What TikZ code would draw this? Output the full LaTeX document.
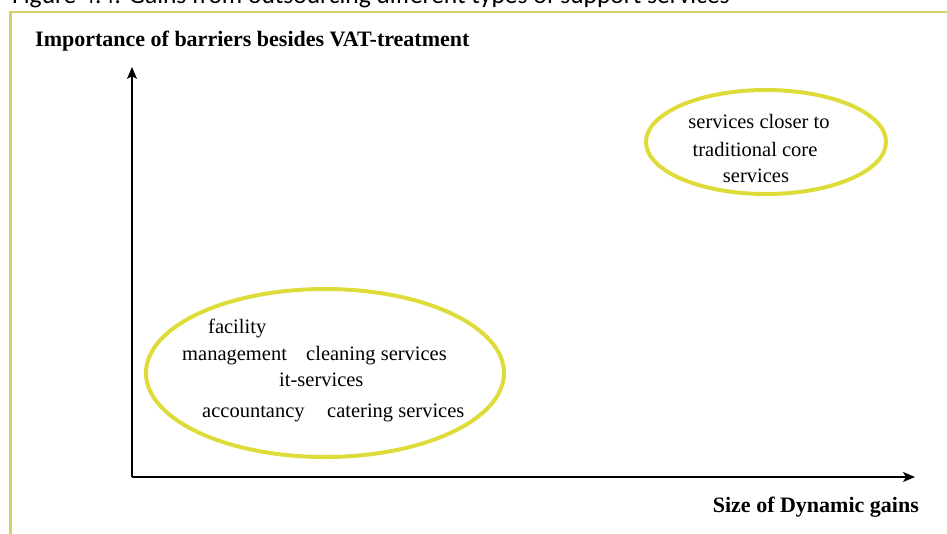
\documentclass[tikz,border=0pt]{standalone}
\usepackage{fontspec}
\setmainfont{Liberation Serif}
\newfontfamily\captionfont{Carlito}
\usetikzlibrary{arrows.meta,shapes.geometric}

\definecolor{framecol}{RGB}{212,208,106}
\definecolor{ringcol}{RGB}{222,220,58}

\tikzset{
	axis/.style={line width=1.5pt, -{Stealth[length=12pt,width=10pt,inset=3pt]}},
	ring/.style={ellipse, draw=ringcol, line width=4pt, inner sep=0pt},
	item/.style={inner sep=0pt, font=\fontsize{20.5}{24}\selectfont},
	axislabel/.style={inner sep=0pt, font=\fontsize{22}{26}\selectfont\bfseries}
}

\begin{document}
\begin{tikzpicture}[x=1pt, y=-1pt]
	\useasboundingbox (0,0) rectangle (947,533);
	% caption and frame
	\node (caption) at (12,3) [anchor=base west, inner sep=0pt, font=\captionfont\fontsize{25.5}{30}\selectfont] {Figure 4.4: Gains from outsourcing different types of support services};
	\draw[framecol, line width=2.5pt] (10.5,540) -- (10.5,12) -- (950,12);
	% axes
	\coordinate (origin) at (132,477);
	\coordinate (ytip) at (132,67);
	\coordinate (xtip) at (915,477);
	\draw[axis] (origin) -- (ytip);
	\draw[axis] (origin) -- (xtip);
	\node (ylabel) at (35,46) [axislabel, anchor=base west] {Importance of barriers besides VAT-treatment};
	\node (xlabel) at (919,512) [axislabel, anchor=base east] {Size of Dynamic gains};
	% groups of services
	\node (core) at (766,142) [ring, minimum width=240pt, minimum height=104pt] {};
	\node (support) at (325,373) [ring, minimum width=358pt, minimum height=168pt] {};
		\node (closer) at (759,128) [item, anchor=base] {services closer to};
		\node (traditional) at (755,156) [item, anchor=base] {traditional core};
		\node (coreserv) at (756,182) [item, anchor=base] {services};
		\node (facility) at (208,333) [item, anchor=base west] {facility};
		\node (management) at (182,360) [item, anchor=base west] {management};
		\node (cleaning) at (306,360) [item, anchor=base west] {cleaning services};
		\node (it) at (279,386) [item, anchor=base west] {it-services};
		\node (accountancy) at (202,417) [item, anchor=base west] {accountancy};
		\node (catering) at (327,417) [item, anchor=base west] {catering services};
\end{tikzpicture}
\end{document}
